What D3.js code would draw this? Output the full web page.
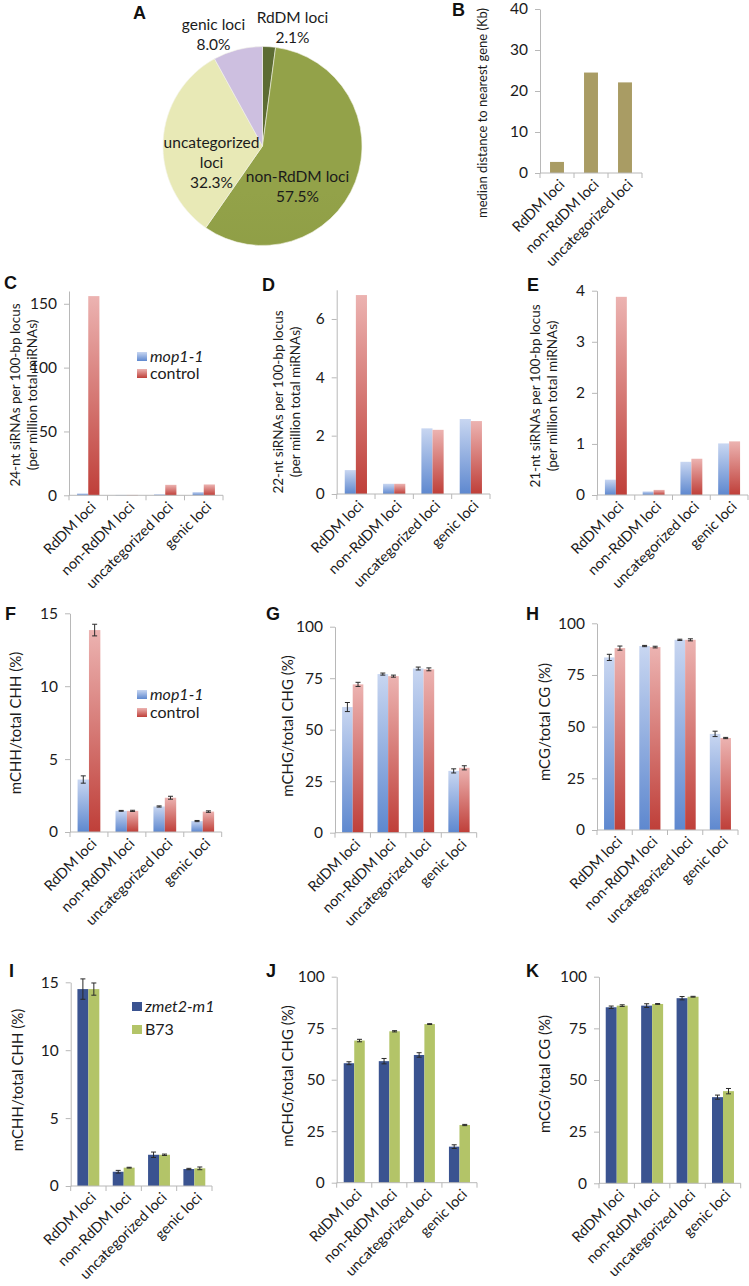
<!DOCTYPE html>
<html><head><meta charset="utf-8">
<script src="https://cdn.jsdelivr.net/npm/d3@7"></script>
<style>
html,body{margin:0;padding:0;background:#fff;}
svg{display:block;font-family:Lato,"Open Sans",sans-serif;}
</style></head>
<body>
<svg id="chart" width="749" height="1286"></svg>
<script>
// ---------- DATA ----------
const categories = ["RdDM loci", "non-RdDM loci", "uncategorized loci", "genic loci"];
const distCategories = ["RdDM loci", "non-RdDM loci", "uncategorized loci"];

const pieValues = [2.1, 57.5, 32.3, 8.0];
const pieLabelLines = [["RdDM loci", "2.1%"], ["non-RdDM loci", "57.5%"], ["uncategorized", "loci", "32.3%"], ["genic loci", "8.0%"]];

const distValues = [2.7, 24.5, 22.1];
const distTicks = [0, 10, 20, 30, 40];

const sirna24Mop1 = [1.5, 0.3, 0.8, 2.5];
const sirna24Control = [156, 0.3, 8.2, 8.5];
const sirna24Ticks = [0, 50, 100, 150];

const sirna22Mop1 = [0.82, 0.35, 2.25, 2.57];
const sirna22Control = [6.82, 0.35, 2.2, 2.5];
const sirna22Ticks = [0, 2, 4, 6];

const sirna21Mop1 = [0.3, 0.07, 0.65, 1.01];
const sirna21Control = [3.88, 0.1, 0.71, 1.05];
const sirna21Ticks = [0, 1, 2, 3, 4];

const chhMop1 = [3.6, 1.45, 1.75, 0.75];
const chhMop1Err = [0.25, 0.03, 0.04, 0.04];
const chhControl = [13.85, 1.45, 2.35, 1.4];
const chhControlErr = [0.4, 0.04, 0.1, 0.05];
const chhTicks = [0, 5, 10, 15];

const chgMop1 = [61, 77, 79.7, 30];
const chgMop1Err = [2.2, 0.5, 0.7, 1];
const chgControl = [72, 76, 79.3, 31.5];
const chgControlErr = [1, 0.5, 0.7, 1];

const cgMop1 = [83.5, 89, 92, 46.5];
const cgMop1Err = [1.5, 0.3, 0.3, 1.3];
const cgControl = [88, 88.5, 92, 44.5];
const cgControlErr = [1, 0.4, 0.5, 0.3];

const chhZmet2 = [14.5, 1.05, 2.3, 1.25];
const chhZmet2Err = [0.75, 0.1, 0.2, 0.05];
const chhB73 = [14.5, 1.35, 2.3, 1.3];
const chhB73Err = [0.45, 0.03, 0.05, 0.1];

const chgZmet2 = [58, 59, 62, 17.5];
const chgZmet2Err = [0.7, 1.3, 1.1, 0.9];
const chgB73 = [69, 73.5, 77, 28];
const chgB73Err = [0.6, 0.3, 0.2, 0.3];

const cgZmet2 = [85.2, 86, 89.6, 41.7];
const cgZmet2Err = [0.6, 0.9, 0.8, 1];
const cgB73 = [86, 86.8, 90.3, 44.6];
const cgB73Err = [0.4, 0.2, 0.2, 1.3];

const pctTicks = [0, 25, 50, 75, 100];
const legendMop = ["mop1-1", "control"];
const legendZmet = ["zmet2-m1", "B73"];

// ---------- SETUP ----------
const svg = d3.select("#chart");
const defs = svg.append("defs");
function vGrad(id, top, bottom, userSpace, y1, y2) {
  const g = defs.append("linearGradient").attr("id", id).attr("x1", 0).attr("x2", 0);
  if (userSpace) g.attr("gradientUnits", "userSpaceOnUse").attr("y1", y1).attr("y2", y2);
  else g.attr("y1", 0).attr("y2", 1);
  g.append("stop").attr("offset", "0%").attr("stop-color", top);
  g.append("stop").attr("offset", "100%").attr("stop-color", bottom);
}
vGrad("blueG", "#c8d6f1", "#5e88cf");
vGrad("redG", "#ecb3b1", "#bf3f39");
vGrad("uncG", "#e8e9b6", "#c4d667", true, 80, 235);
vGrad("genG", "#cdbfe0", "#9a80c2", true, 50, 145);
vGrad("nonG", "#93a249", "#86963f", true, 46, 246);

const AXIS = "#b8b8b8";
const TXT = "#1b1b1b";
const fmt = d3.format("~g");

function panelLetter(t, x, y) {
  svg.append("text").attr("x", x).attr("y", y).text(t)
    .attr("font-family", "'Liberation Sans',Arial,sans-serif").attr("font-weight", "bold")
    .attr("font-size", 18).attr("fill", "#111");
}

// ---------- PIE (A) ----------
(function () {
  const cx = 262.5, cy = 146, r = 99.5;
  const g = svg.append("g").attr("transform", `translate(${cx},${cy})`);
  const pie = d3.pie().sort(null).value(d => d)(pieValues);
  const arc = d3.arc().innerRadius(0).outerRadius(r);
  const fills = ["#5d6c33", "url(#nonG)", "url(#uncG)", "url(#genG)"];
  g.selectAll("path").data(pie).join("path")
    .attr("d", arc).attr("fill", (d, i) => fills[i])
    .attr("stroke", "#f4f4ea").attr("stroke-width", 0.6);
  // label anchors (layout), relative to pie centre
  const labelPos = [[30, -123], [35, 36], [-51, 2], [-49, -116]];
  pieLabelLines.forEach((lines, i) => {
    const t = g.append("text").attr("text-anchor", "middle")
      .attr("font-size", 15.5).attr("fill", TXT);
    lines.forEach((s, k) => {
      t.append("tspan").attr("x", labelPos[i][0]).attr("y", labelPos[i][1] + k * 20).text(s);
    });
  });
  panelLetter("A", 133, 19);
})();

// ---------- generic bar panel ----------
function barPanel(cfg) {
  const g = svg.append("g");
  const x = d3.scaleBand().domain(cfg.cats).range([cfg.x0, cfg.x1]);
  const y = d3.scaleLinear().domain([0, cfg.max]).range([cfg.y0, cfg.yTop]);
  const bw = x.bandwidth();
  const nS = cfg.series.length;
  const gw = cfg.groupFrac * bw;
  const sub = d3.scaleBand().domain(d3.range(nS)).range([(bw - gw) / 2, (bw + gw) / 2]);

  // y axis
  const ya = g.append("g").attr("transform", `translate(${cfg.x0},0)`)
    .call(d3.axisLeft(y).tickValues(cfg.ticks).tickFormat(fmt).tickSize(5).tickSizeOuter(0).tickPadding(7));
  ya.select(".domain").attr("stroke", AXIS);
  ya.selectAll(".tick line").attr("stroke", AXIS);
  ya.selectAll(".tick text").attr("font-size", 15.5).attr("fill", TXT)
    .attr("font-family", "Lato,sans-serif");

  // bars
  cfg.series.forEach((vals, si) => {
    g.append("g").selectAll("rect").data(vals).join("rect")
      .attr("x", (d, i) => x(cfg.cats[i]) + sub(si))
      .attr("width", sub.bandwidth())
      .attr("y", d => y(d))
      .attr("height", d => y(0) - y(d))
      .attr("fill", cfg.fills[si]);
    if (cfg.errors && cfg.errors[si]) {
      const eg = g.append("g").attr("stroke", "#2a2a2a").attr("stroke-width", 1);
      vals.forEach((v, i) => {
        const e = cfg.errors[si][i];
        const cxp = x(cfg.cats[i]) + sub(si) + sub.bandwidth() / 2;
        eg.append("line").attr("x1", cxp).attr("x2", cxp).attr("y1", y(v - e)).attr("y2", y(v + e));
        eg.append("line").attr("x1", cxp - 2.5).attr("x2", cxp + 2.5).attr("y1", y(v + e)).attr("y2", y(v + e));
        eg.append("line").attr("x1", cxp - 2.5).attr("x2", cxp + 2.5).attr("y1", y(v - e)).attr("y2", y(v - e));
      });
    }
  });

  // x axis
  g.append("line").attr("x1", cfg.x0).attr("x2", cfg.x1).attr("y1", y(0)).attr("y2", y(0)).attr("stroke", AXIS);
  const bounds = cfg.cats.map(c => x(c)).concat([cfg.x1]);
  g.selectAll(".xt").data(bounds).join("line").attr("class", "xt")
    .attr("x1", d => d).attr("x2", d => d).attr("y1", y(0)).attr("y2", y(0) + 5).attr("stroke", AXIS);
  g.selectAll(".xl").data(cfg.cats).join("text").attr("class", "xl")
    .attr("transform", c => `translate(${x(c) + bw / 2 + 5},${y(0) + 9}) rotate(-45)`)
    .attr("text-anchor", "end").attr("dy", "0.35em")
    .attr("font-size", 14.5).attr("fill", TXT).text(c => c);

  // y title
  const t = g.append("text").attr("transform", `translate(${cfg.titleX},${cfg.titleY}) rotate(-90)`)
    .attr("text-anchor", "middle").attr("font-size", cfg.titleSize).attr("fill", TXT);
  cfg.title.forEach((s, k) => {
    t.append("tspan").attr("x", 0).attr("y", (k - (cfg.title.length - 1)) * 17).attr("dy", "0.35em").text(s);
  });
  // legend
  if (cfg.legend) {
    const L = cfg.legend;
    L.names.forEach((n, k) => {
      g.append("rect").attr("x", L.x).attr("y", L.y + k * L.gap - 10).attr("width", 10).attr("height", 9)
        .attr("fill", cfg.fills[k]);
      g.append("text").attr("x", L.x + 13).attr("y", L.y + k * L.gap).attr("font-size", 16)
        .attr("fill", TXT).attr("font-style", k === 0 ? "italic" : "normal").text(n);
    });
  }
  panelLetter(cfg.letter, cfg.lx, cfg.ly);
}

const BLUE = "url(#blueG)", RED = "url(#redG)", NAVY = "#3a5390", GREEN = "#b3c468";

// B
barPanel({cats: distCategories, x0: 540, x1: 642, y0: 173, yTop: 9, max: 40, ticks: distTicks,
  groupFrac: 0.41, series: [distValues], fills: ["#a99c64"],
  title: ["median distance to nearest gene (Kb)"], titleX: 482, titleY: 113, titleSize: 13,
  letter: "B", lx: 452, ly: 16});

// C
barPanel({cats: categories, x0: 69, x1: 223, y0: 495.3, yTop: 291, max: 160, ticks: sirna24Ticks,
  groupFrac: 0.58, series: [sirna24Mop1, sirna24Control], fills: [BLUE, RED],
  title: ["24-nt siRNAs per 100-bp locus", "(per million total miRNAs)"], titleX: 32, titleY: 395, titleSize: 13.5,
  legend: {names: legendMop, x: 137, y: 362, gap: 17},
  letter: "C", lx: 4, ly: 289});

// D
barPanel({cats: categories, x0: 336.7, x1: 490, y0: 494, yTop: 289.8, max: 7, ticks: sirna22Ticks,
  groupFrac: 0.58, series: [sirna22Mop1, sirna22Control], fills: [BLUE, RED],
  title: ["22-nt siRNAs per 100-bp locus", "(per million total miRNAs)"], titleX: 295, titleY: 402, titleSize: 13.5,
  letter: "D", lx: 262, ly: 291});

// E
barPanel({cats: categories, x0: 597, x1: 748, y0: 495, yTop: 290.7, max: 4, ticks: sirna21Ticks,
  groupFrac: 0.58, series: [sirna21Mop1, sirna21Control], fills: [BLUE, RED],
  title: ["21-nt siRNAs per 100-bp locus", "(per million total miRNAs)"], titleX: 552, titleY: 396, titleSize: 13.5,
  letter: "E", lx: 527, ly: 291});

// F
barPanel({cats: categories, x0: 70, x1: 221.7, y0: 832, yTop: 613.3, max: 15, ticks: chhTicks,
  groupFrac: 0.6, series: [chhMop1, chhControl], errors: [chhMop1Err, chhControlErr], fills: [BLUE, RED],
  title: ["mCHH/total CHH (%)"], titleX: 16, titleY: 723, titleSize: 15,
  legend: {names: legendMop, x: 137, y: 700, gap: 18},
  letter: "F", lx: 5, ly: 620});

// G
barPanel({cats: categories, x0: 335, x1: 476.7, y0: 832.7, yTop: 626.7, max: 100, ticks: pctTicks,
  groupFrac: 0.6, series: [chgMop1, chgControl], errors: [chgMop1Err, chgControlErr], fills: [BLUE, RED],
  title: ["mCHG/total CHG (%)"], titleX: 288, titleY: 726, titleSize: 15,
  letter: "G", lx: 266, ly: 620});

// H
barPanel({cats: categories, x0: 597, x1: 738, y0: 830, yTop: 623.3, max: 100, ticks: pctTicks,
  groupFrac: 0.6, series: [cgMop1, cgControl], errors: [cgMop1Err, cgControlErr], fills: [BLUE, RED],
  title: ["mCG/total CG (%)"], titleX: 545, titleY: 722, titleSize: 15,
  letter: "H", lx: 526, ly: 620});

// I
barPanel({cats: categories, x0: 70.7, x1: 212, y0: 1186, yTop: 982.3, max: 15, ticks: chhTicks,
  groupFrac: 0.62, series: [chhZmet2, chhB73], errors: [chhZmet2Err, chhB73Err], fills: [NAVY, GREEN],
  title: ["mCHH/total CHH (%)"], titleX: 18, titleY: 1080, titleSize: 15,
  legend: {names: legendZmet, x: 132, y: 1012, gap: 23},
  letter: "I", lx: 9, ly: 977});

// J
barPanel({cats: categories, x0: 336.7, x1: 477, y0: 1182.7, yTop: 976.7, max: 100, ticks: pctTicks,
  groupFrac: 0.6, series: [chgZmet2, chgB73], errors: [chgZmet2Err, chgB73Err], fills: [NAVY, GREEN],
  title: ["mCHG/total CHG (%)"], titleX: 288, titleY: 1076, titleSize: 15,
  letter: "J", lx: 266, ly: 977});

// K
barPanel({cats: categories, x0: 599, x1: 740.7, y0: 1183.3, yTop: 976.7, max: 100, ticks: pctTicks,
  groupFrac: 0.62, series: [cgZmet2, cgB73], errors: [cgZmet2Err, cgB73Err], fills: [NAVY, GREEN],
  title: ["mCG/total CG (%)"], titleX: 545, titleY: 1074, titleSize: 15,
  letter: "K", lx: 526, ly: 977});
</script>
</body></html>
